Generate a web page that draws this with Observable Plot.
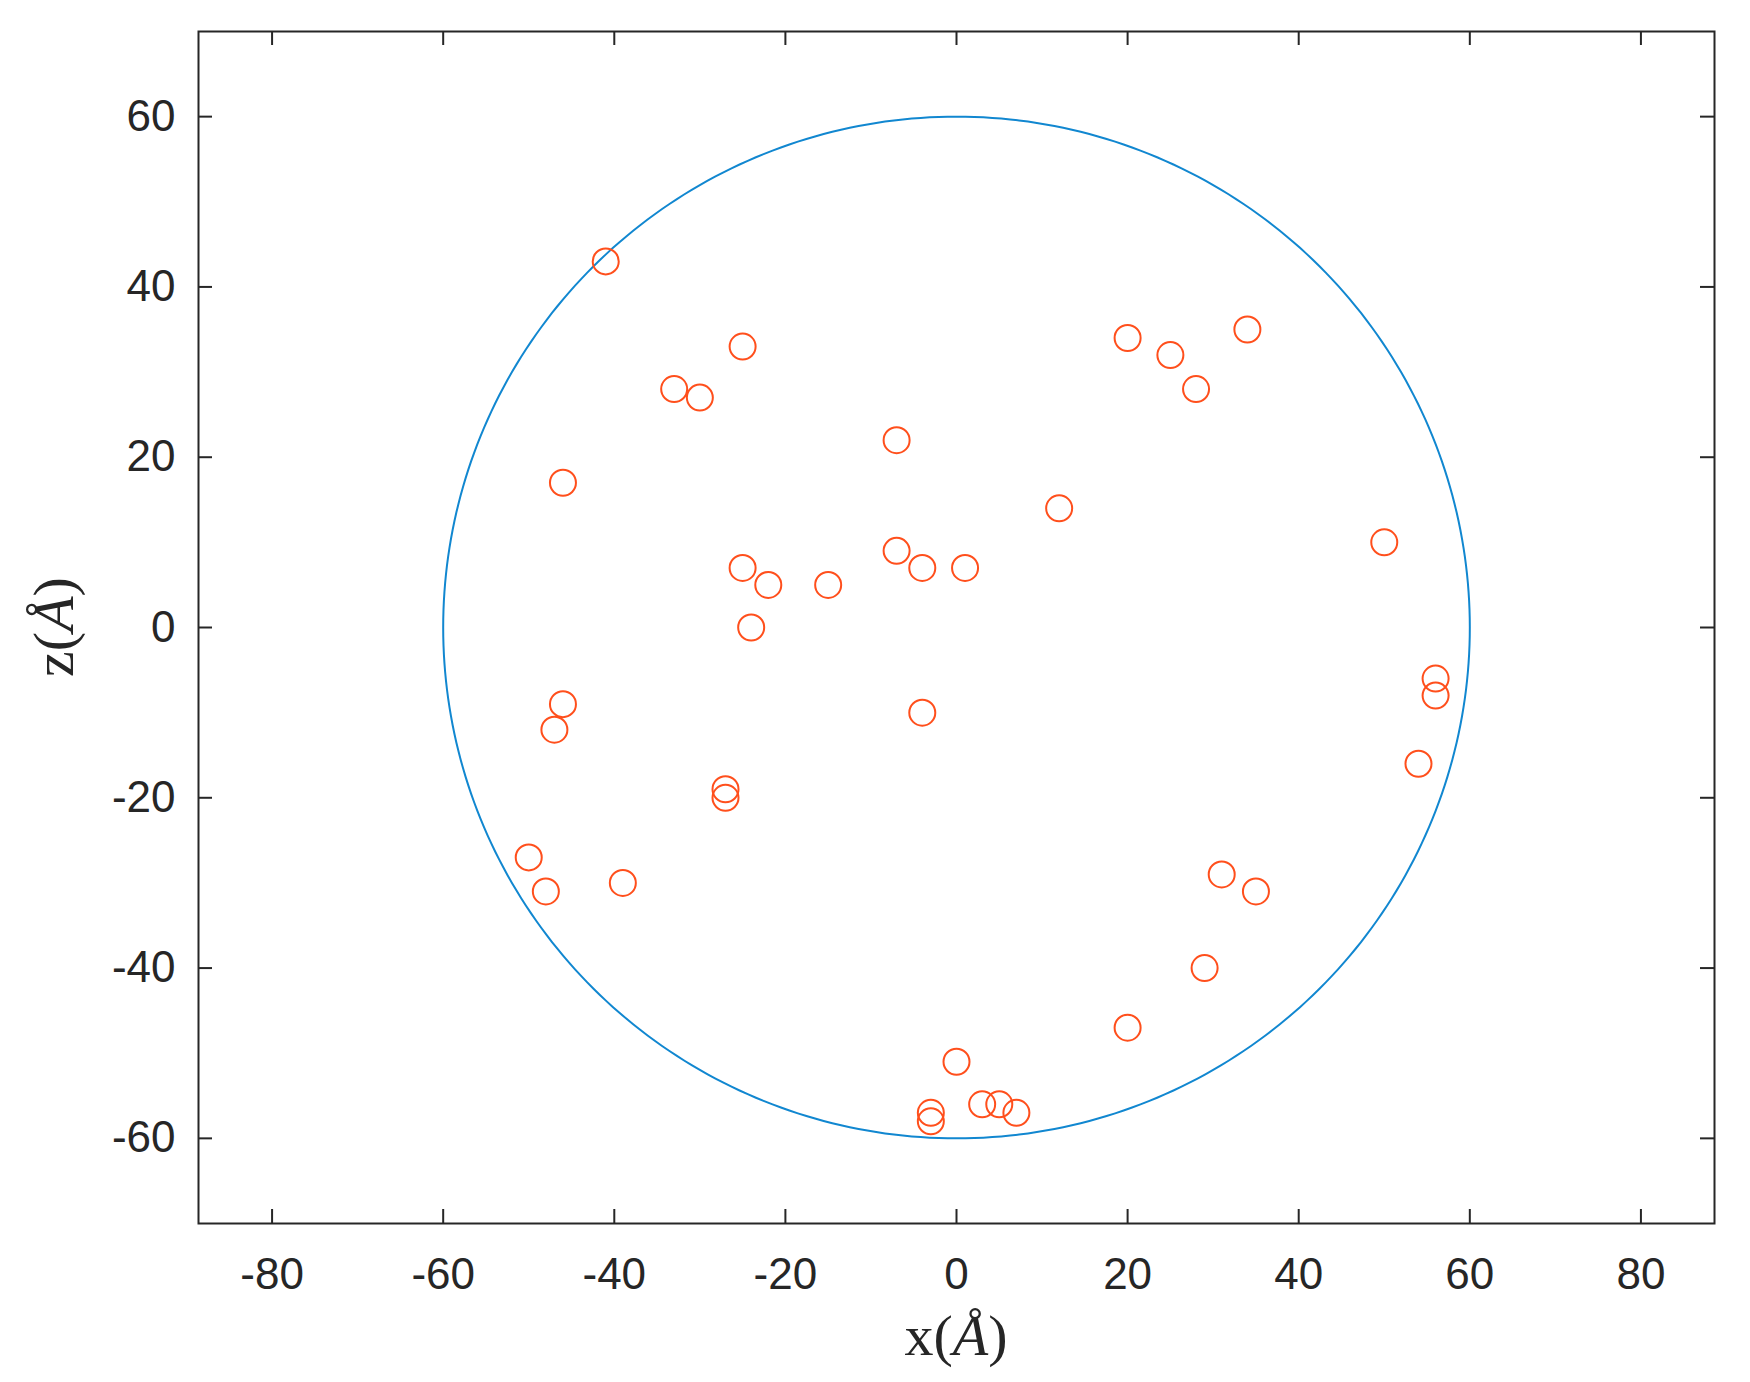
<!DOCTYPE html>
<html>
<head>
<meta charset="utf-8">
<script src="https://cdn.jsdelivr.net/npm/d3@7"></script>
<script src="https://cdn.jsdelivr.net/npm/@observablehq/plot@0.6"></script>
<style>
  html, body { margin: 0; padding: 0; background: #fff; }
  #chart svg { display: block; }
</style>
</head>
<body>
<div id="chart"></div>
<script>
// Scatter points (x, z) in Å
const pointX = [-41, -25, -33, -30, -7, -46, 12, 20, 25, 34, 28, 50, -7, -4, 1, -25, -22, -15, -24,
  56, 56, 54, -4, -46, -47, -27, -27, -50, -48, -39, 31, 35, 29, 20, 0, -3, -3, 3, 5, 7];
const pointZ = [43, 33, 28, 27, 22, 17, 14, 34, 32, 35, 28, 10, 9, 7, 7, 7, 5, 5, 0,
  -6, -8, -16, -10, -9, -12, -19, -20, -27, -31, -30, -29, -31, -40, -47, -51, -57, -58, -56, -56, -57];

// Boundary circle: centre and radius (Å)
const circleCenter = [0, 0];
const circleRadius = 60;

// Tick values
const xTicks = [-80, -60, -40, -20, 0, 20, 40, 60, 80];
const yTicks = [-60, -40, -20, 0, 20, 40, 60];

const points = pointX.map((x, i) => ({x, z: pointZ[i]}));
const circle = d3.range(0, 361).map(a => ({
  x: circleCenter[0] + circleRadius * Math.cos(a * Math.PI / 180),
  z: circleCenter[1] + circleRadius * Math.sin(a * Math.PI / 180)
}));

const W = 1750, H = 1382;
const mL = 198, mR = 36, mT = 31, mB = 159;
const pw = W - mL - mR, ph = H - mT - mB;
const tickLen = 14;
const axisColor = "#262626";
const fmt = d => String(d);

const svg = Plot.plot({
  width: W, height: H,
  marginLeft: mL, marginRight: mR, marginTop: mT, marginBottom: mB,
  style: {fontFamily: "'Liberation Sans', Arial, sans-serif", fontSize: "44px", color: axisColor, background: "#fff"},
  x: {domain: [-88.6, 88.6], ticks: xTicks},
  y: {domain: [-70, 70], ticks: yTicks},
  marks: [
    Plot.line(circle, {x: "x", y: "z", stroke: "#1187D0", strokeWidth: 2}),
    Plot.dot(points, {x: "x", y: "z", r: 13, stroke: "#FF4F1C", strokeWidth: 2, fill: "none"}),
    // inward ticks on all four sides
    Plot.tickX(xTicks, {x: d => d, insetTop: ph - tickLen, stroke: axisColor, strokeWidth: 2}),
    Plot.tickX(xTicks, {x: d => d, insetBottom: ph - tickLen, stroke: axisColor, strokeWidth: 2}),
    Plot.tickY(yTicks, {y: d => d, insetRight: pw - tickLen, stroke: axisColor, strokeWidth: 2}),
    Plot.tickY(yTicks, {y: d => d, insetLeft: pw - tickLen, stroke: axisColor, strokeWidth: 2}),
    Plot.axisX(xTicks, {anchor: "bottom", tickSize: 0, tickPadding: 34, label: null, fill: axisColor, tickFormat: fmt}),
    Plot.axisY(yTicks, {anchor: "left", tickSize: 0, tickPadding: 23, label: null, fill: axisColor, tickFormat: fmt}),
    Plot.frame({stroke: axisColor, strokeWidth: 2})
  ]
});

const s = d3.select(svg);
const lab = s.append("g")
  .attr("font-family", "'Liberation Serif', 'Times New Roman', serif")
  .attr("font-size", 58)
  .attr("fill", axisColor);

const xl = lab.append("text")
  .attr("x", (mL + W - mR) / 2)
  .attr("y", 1355)
  .attr("text-anchor", "middle");
xl.append("tspan").text("x(");
xl.append("tspan").attr("font-style", "italic").text("Å");
xl.append("tspan").text(")");

const yl = lab.append("text")
  .attr("transform", `translate(73, ${(mT + H - mB) / 2}) rotate(-90)`)
  .attr("text-anchor", "middle");
yl.append("tspan").text("z(");
yl.append("tspan").attr("font-style", "italic").text("Å");
yl.append("tspan").text(")");

document.getElementById("chart").appendChild(svg);
</script>
</body>
</html>
